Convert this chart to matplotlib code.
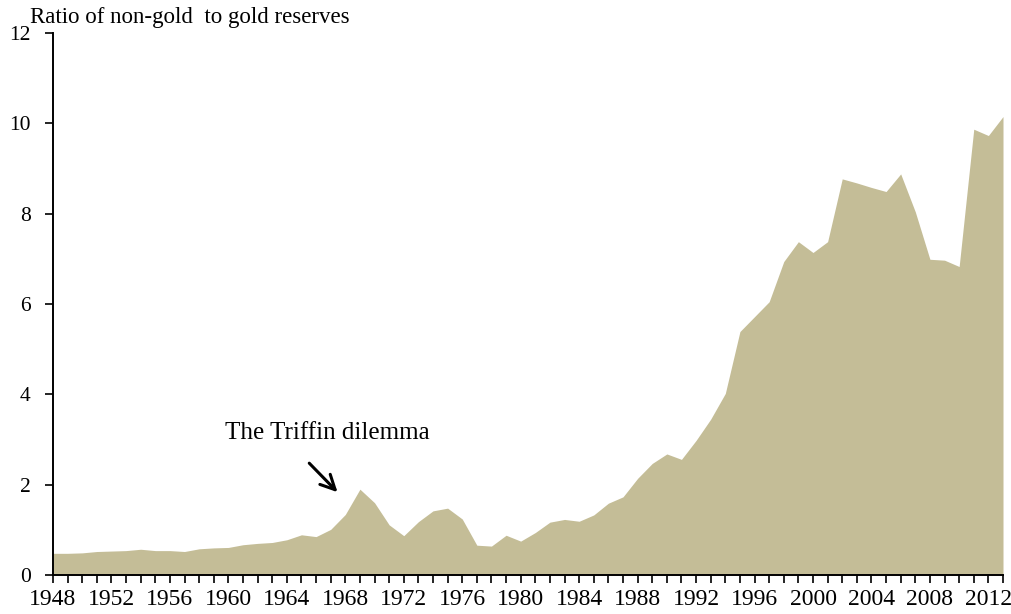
import matplotlib
matplotlib.use("Agg")
import matplotlib.pyplot as plt
import numpy as np

years = list(range(1948, 2014))
ratio = [0.48, 0.48, 0.49, 0.52, 0.53, 0.54, 0.57, 0.54, 0.54, 0.52,
         0.58, 0.60, 0.61, 0.67, 0.70, 0.72, 0.78, 0.89, 0.85, 1.01,
         1.34, 1.90, 1.60, 1.11, 0.87, 1.18, 1.42, 1.48, 1.24, 0.66,
         0.64, 0.88, 0.75, 0.94, 1.17, 1.23, 1.19, 1.33, 1.59, 1.73,
         2.14, 2.47, 2.68, 2.56, 2.98, 3.45, 4.02, 5.39, 5.72, 6.05,
         6.94, 7.38, 7.14, 7.38, 8.77, 8.68, 8.58, 8.49, 8.88, 8.04,
         6.99, 6.97, 6.83, 9.87, 9.73, 10.15]
yticks = [0, 2, 4, 6, 8, 10, 12]
xlabel_years = list(range(1948, 2013, 4))

font = "Liberation Serif"
plt.rcParams["font.family"] = [font, "DejaVu Serif"]

fig = plt.figure(figsize=(10.11, 6.14), dpi=100)
ax = fig.add_axes([53/1011, 39/614, 950/1011, 542/614])

ax.fill_between(years, ratio, 0, color="#C4BD97", linewidth=0)

ax.set_xlim(1948, 2013)
ax.set_ylim(0, 12)

ax.spines["top"].set_visible(False)
ax.spines["right"].set_visible(False)
for s in ("left", "bottom"):
    ax.spines[s].set_linewidth(1.4)
    ax.spines[s].set_color("black")

ax.set_yticks(yticks)
ax.set_yticklabels([str(v) for v in yticks])
ax.set_xticks(years)
ax.set_xticklabels([str(y) if y in xlabel_years else "" for y in years])
ax.tick_params(axis="both", direction="out", length=6, width=1.2,
               colors="black")
ax.tick_params(axis="y", pad=10, labelsize=15.5)
ax.tick_params(axis="x", pad=4, labelsize=17)

fig.text(30/1011, 1 - 18/614, "Ratio of non-gold  to gold reserves",
         fontsize=16.5, va="center", ha="left")

ax.text(1959.8, 3.14, "The Triffin dilemma", fontsize=18,
        va="center", ha="left")
ax.annotate("", xy=(1967.6, 1.79), xytext=(1965.4, 2.52),
            arrowprops=dict(arrowstyle="->", lw=2.2, color="black",
                            mutation_scale=26))

fig.savefig("out.png", dpi=100)
